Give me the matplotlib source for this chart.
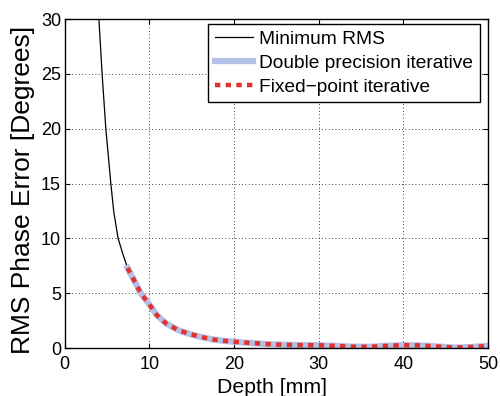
"""RMS phase error versus depth."""

import matplotlib
matplotlib.use('Agg')
from matplotlib import pyplot as plt

# values
depth_min = [4.0, 4.06, 4.44, 4.88, 5.47, 5.82, 6.33, 6.92, 7.45, 8.3, 9.0, 10.0, 10.9, 12.0,
             13.4, 14.8, 16.0, 17.5, 18.7, 20.0, 21.7, 24.0, 26.0, 28.0, 30.0, 32.0, 34.0, 36.0,
             38.0, 40.0, 42.0, 44.0, 46.0, 48.0, 50.0]
rms_min = [31.0, 30.0, 25.0, 20.0, 15.0, 12.4, 10.0, 8.5, 7.3, 6.05, 5.0, 4.0, 3.0, 2.25,
           1.64, 1.28, 1.03, 0.79, 0.67, 0.58, 0.48, 0.36, 0.30, 0.27, 0.26, 0.20, 0.13, 0.12,
           0.20, 0.27, 0.24, 0.15, 0.05, 0.10, 0.20]

depth_iter = [7.45, 8.3, 9.0, 10.0, 10.9, 12.0, 13.4, 14.8, 16.0, 17.5, 18.7, 20.0, 21.7, 24.0,
              26.0, 28.0, 30.0, 32.0, 34.0, 36.0, 38.0, 40.0, 42.0, 44.0, 46.0, 48.0, 50.0]
rms_double = [7.3, 6.05, 5.0, 4.0, 3.0, 2.25, 1.64, 1.28, 1.03, 0.79, 0.67, 0.58, 0.48, 0.36,
              0.30, 0.27, 0.26, 0.20, 0.13, 0.12, 0.20, 0.27, 0.24, 0.15, 0.05, 0.10, 0.20]
rms_fixed = [7.3, 6.05, 5.0, 4.0, 3.0, 2.25, 1.64, 1.28, 1.03, 0.79, 0.67, 0.58, 0.48, 0.36,
             0.30, 0.27, 0.26, 0.20, 0.13, 0.12, 0.20, 0.27, 0.24, 0.15, 0.05, 0.10, 0.20]

x_ticks = [0, 10, 20, 30, 40, 50]
y_ticks = [0, 5, 10, 15, 20, 25, 30]

plt.rcParams['font.family'] = ['Liberation Sans', 'DejaVu Sans']

fig = plt.figure(figsize=(5.0, 3.96), dpi=100)
ax = fig.add_axes([0.129, 0.121, 0.847, 0.831])

ax.plot(depth_min, rms_min, color='black', linewidth=0.9, label='Minimum RMS')
ax.plot(depth_iter, rms_double, color='#b3c1e8', linewidth=4.5, label='Double precision iterative')
ax.plot(depth_iter, rms_fixed, color='#e3312b', linewidth=3.2, linestyle=(0, (1.2, 1.2)),
        label='Fixed\u2212point iterative')

ax.set_xlim(0, 50)
ax.set_ylim(0, 30)
ax.set_xticks(x_ticks)
ax.set_yticks(y_ticks)
ax.tick_params(direction='in', length=3.6, width=0.8, labelsize=13, top=True, right=True)
ax.tick_params(axis='x', pad=5.5)
ax.tick_params(axis='y', pad=2.5)
for spine in ax.spines.values():
    spine.set_linewidth(1.0)
ax.grid(True, color='black', linestyle=(0, (1, 3)), linewidth=0.6)

ax.set_xlabel('Depth [mm]', fontsize=15.3)
ax.set_ylabel('RMS Phase Error [Degrees]', fontsize=19)
ax.xaxis.set_label_coords(0.489, -0.092)
ax.yaxis.set_label_coords(-0.07, 0.48)

leg = ax.legend(loc='upper right', bbox_to_anchor=(0.981, 0.985), fontsize=13.8, frameon=True,
                fancybox=False, framealpha=1, edgecolor='black', borderaxespad=0,
                handlelength=2.0, handletextpad=0.3, labelspacing=0.33, borderpad=0.35)
leg.get_frame().set_linewidth(1.0)

fig.savefig('out.png', dpi=100)
